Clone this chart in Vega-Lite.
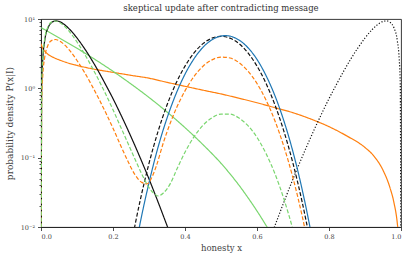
{
  "$schema": "https://vega.github.io/schema/vega-lite/v6.json",
  "width": 360,
  "height": 208,
  "autosize": {"type": "none"},
  "padding": {"left": 41, "top": 19, "right": 14, "bottom": 33},
  "background": "white",
  "config": {
    "view": {"stroke": "#222222", "strokeWidth": 0.9},
    "axis": {
      "domainColor": "#222222", "domainWidth": 0.9, "tickColor": "#222222", "tickWidth": 0.8,
      "labelFont": "DejaVu Serif", "labelFontSize": 6.5, "labelColor": "#444444",
      "titleFont": "DejaVu Serif", "titleFontSize": 8.5, "titleFontWeight": "normal", "titleColor": "#444444",
      "grid": false
    }
  },
  "title": {"text": "skeptical update after contradicting message", "font": "DejaVu Serif", "fontSize": 8.5, "fontWeight": "normal", "color": "#333333", "offset": 4, "anchor": "middle"},
  "data": {"values": [
    {"s":"a","x":0,"y":4.4},{"s":"a","x":0.005,"y":3.75},{"s":"a","x":0.01,"y":3.45},{"s":"a","x":0.02,"y":3.08},{"s":"a","x":0.035,"y":2.78},{"s":"a","x":0.05,"y":2.58},{"s":"a","x":0.075,"y":2.32},{"s":"a","x":0.1,"y":2.14},{"s":"a","x":0.15,"y":1.88},{"s":"a","x":0.2,"y":1.7},{"s":"a","x":0.25,"y":1.54},{"s":"a","x":0.3,"y":1.4},{"s":"a","x":0.35,"y":1.22},{"s":"a","x":0.4,"y":1.07},{"s":"a","x":0.45,"y":0.94},{"s":"a","x":0.5,"y":0.83},{"s":"a","x":0.55,"y":0.72},{"s":"a","x":0.6,"y":0.62},{"s":"a","x":0.65,"y":0.525},{"s":"a","x":0.7,"y":0.445},{"s":"a","x":0.75,"y":0.36},{"s":"a","x":0.8,"y":0.28},{"s":"a","x":0.85,"y":0.205},{"s":"a","x":0.9,"y":0.14},{"s":"a","x":0.925,"y":0.105},{"s":"a","x":0.95,"y":0.066},{"s":"a","x":0.97,"y":0.036},{"s":"a","x":0.98,"y":0.023},{"s":"a","x":0.99,"y":0.011},{"s":"a","x":0.995,"y":0.0055},{"s":"a","x":1,"y":0.0001},
    {"s":"b","x":0,"y":7.5},{"s":"b","x":0.05,"y":5.37},{"s":"b","x":0.1,"y":3.78},{"s":"b","x":0.15,"y":2.61},{"s":"b","x":0.2,"y":1.76},{"s":"b","x":0.25,"y":1.156},{"s":"b","x":0.3,"y":0.739},{"s":"b","x":0.35,"y":0.456},{"s":"b","x":0.4,"y":0.271},{"s":"b","x":0.45,"y":0.154},{"s":"b","x":0.5,"y":0.083},{"s":"b","x":0.55,"y":0.04},{"s":"b","x":0.6,"y":0.017},{"s":"b","x":0.65,"y":0.0065},{"s":"b","x":0.7,"y":0.0025},
    {"s":"c","x":0,"y":0.0001},{"s":"c","x":0.002,"y":1.14},{"s":"c","x":0.005,"y":2.67},{"s":"c","x":0.01,"y":4.76},{"s":"c","x":0.02,"y":7.54},{"s":"c","x":0.03,"y":8.93},{"s":"c","x":0.04,"y":9.38},{"s":"c","x":0.05,"y":9.22},{"s":"c","x":0.06,"y":8.68},{"s":"c","x":0.08,"y":7.05},{"s":"c","x":0.1,"y":5.32},{"s":"c","x":0.12,"y":3.81},{"s":"c","x":0.14,"y":2.62},{"s":"c","x":0.16,"y":1.74},{"s":"c","x":0.18,"y":1.12},{"s":"c","x":0.2,"y":0.71},{"s":"c","x":0.22,"y":0.435},{"s":"c","x":0.24,"y":0.261},{"s":"c","x":0.26,"y":0.153},{"s":"c","x":0.28,"y":0.0878},{"s":"c","x":0.3,"y":0.0493},{"s":"c","x":0.32,"y":0.0269},{"s":"c","x":0.34,"y":0.0144},{"s":"c","x":0.36,"y":0.0076},{"s":"c","x":0.38,"y":0.0038},
    {"s":"d","x":0.225,"y":0.0009},{"s":"d","x":0.25,"y":0.0053},{"s":"d","x":0.275,"y":0.0235},{"s":"d","x":0.3,"y":0.0826},{"s":"d","x":0.325,"y":0.238},{"s":"d","x":0.35,"y":0.574},{"s":"d","x":0.375,"y":1.18},{"s":"d","x":0.4,"y":2.09},{"s":"d","x":0.425,"y":3.24},{"s":"d","x":0.45,"y":4.41},{"s":"d","x":0.475,"y":5.29},{"s":"d","x":0.5,"y":5.62},{"s":"d","x":0.525,"y":5.29},{"s":"d","x":0.55,"y":4.41},{"s":"d","x":0.575,"y":3.24},{"s":"d","x":0.6,"y":2.09},{"s":"d","x":0.625,"y":1.18},{"s":"d","x":0.65,"y":0.574},{"s":"d","x":0.675,"y":0.238},{"s":"d","x":0.7,"y":0.0826},{"s":"d","x":0.725,"y":0.0235},{"s":"d","x":0.75,"y":0.0053},{"s":"d","x":0.775,"y":0.0009},
    {"s":"e","x":0.62,"y":0.0038},{"s":"e","x":0.64,"y":0.0076},{"s":"e","x":0.66,"y":0.0144},{"s":"e","x":0.68,"y":0.0269},{"s":"e","x":0.7,"y":0.0493},{"s":"e","x":0.72,"y":0.0878},{"s":"e","x":0.74,"y":0.153},{"s":"e","x":0.76,"y":0.261},{"s":"e","x":0.78,"y":0.435},{"s":"e","x":0.8,"y":0.71},{"s":"e","x":0.82,"y":1.12},{"s":"e","x":0.84,"y":1.74},{"s":"e","x":0.86,"y":2.62},{"s":"e","x":0.88,"y":3.81},{"s":"e","x":0.9,"y":5.32},{"s":"e","x":0.92,"y":7.05},{"s":"e","x":0.94,"y":8.68},{"s":"e","x":0.95,"y":9.22},{"s":"e","x":0.96,"y":9.38},{"s":"e","x":0.97,"y":8.93},{"s":"e","x":0.98,"y":7.54},{"s":"e","x":0.99,"y":4.76},{"s":"e","x":0.995,"y":2.67},{"s":"e","x":0.998,"y":1.14},{"s":"e","x":1,"y":0.0001},
    {"s":"f","x":0.25,"y":0.0022},{"s":"f","x":0.275,"y":0.0111},{"s":"f","x":0.3,"y":0.0434},{"s":"f","x":0.325,"y":0.1406},{"s":"f","x":0.35,"y":0.371},{"s":"f","x":0.375,"y":0.83},{"s":"f","x":0.4,"y":1.6},{"s":"f","x":0.425,"y":2.67},{"s":"f","x":0.45,"y":3.91},{"s":"f","x":0.475,"y":5.01},{"s":"f","x":0.5,"y":5.68},{"s":"f","x":0.5125,"y":5.75},{"s":"f","x":0.525,"y":5.66},{"s":"f","x":0.55,"y":4.97},{"s":"f","x":0.575,"y":3.85},{"s":"f","x":0.6,"y":2.61},{"s":"f","x":0.625,"y":1.53},{"s":"f","x":0.65,"y":0.778},{"s":"f","x":0.675,"y":0.335},{"s":"f","x":0.7,"y":0.121},{"s":"f","x":0.725,"y":0.0355},{"s":"f","x":0.75,"y":0.0083},{"s":"f","x":0.775,"y":0.0015},
    {"s":"g","x":0,"y":0.0001},{"s":"g","x":0.002,"y":0.67},{"s":"g","x":0.005,"y":1.55},{"s":"g","x":0.01,"y":2.73},{"s":"g","x":0.02,"y":4.24},{"s":"g","x":0.03,"y":4.92},{"s":"g","x":0.04,"y":5.06},{"s":"g","x":0.05,"y":4.87},{"s":"g","x":0.06,"y":4.49},{"s":"g","x":0.08,"y":3.5},{"s":"g","x":0.1,"y":2.52},{"s":"g","x":0.12,"y":1.73},{"s":"g","x":0.14,"y":1.13},{"s":"g","x":0.16,"y":0.718},{"s":"g","x":0.18,"y":0.443},{"s":"g","x":0.2,"y":0.266},{"s":"g","x":0.22,"y":0.155},{"s":"g","x":0.24,"y":0.092},{"s":"g","x":0.26,"y":0.058},{"s":"g","x":0.28,"y":0.044},{"s":"g","x":0.295,"y":0.042},{"s":"g","x":0.31,"y":0.055},{"s":"g","x":0.32,"y":0.075},{"s":"g","x":0.34,"y":0.165},{"s":"g","x":0.36,"y":0.325},{"s":"g","x":0.375,"y":0.5025},{"s":"g","x":0.4,"y":0.92},{"s":"g","x":0.425,"y":1.48},{"s":"g","x":0.45,"y":2.08},{"s":"g","x":0.475,"y":2.575},{"s":"g","x":0.5,"y":2.825},{"s":"g","x":0.525,"y":2.74},{"s":"g","x":0.55,"y":2.345},{"s":"g","x":0.575,"y":1.77},{"s":"g","x":0.6,"y":1.175},{"s":"g","x":0.625,"y":0.678},{"s":"g","x":0.65,"y":0.338},{"s":"g","x":0.675,"y":0.143},{"s":"g","x":0.7,"y":0.0509},{"s":"g","x":0.725,"y":0.01475},{"s":"g","x":0.75,"y":0.0034},{"s":"g","x":0.775,"y":0.0006},
    {"s":"h","x":0,"y":0.0001},{"s":"h","x":0.002,"y":1.235},{"s":"h","x":0.005,"y":2.87},{"s":"h","x":0.01,"y":5.05},{"s":"h","x":0.02,"y":7.83},{"s":"h","x":0.03,"y":9.1},{"s":"h","x":0.04,"y":9.36},{"s":"h","x":0.05,"y":9.01},{"s":"h","x":0.06,"y":8.3},{"s":"h","x":0.08,"y":6.47},{"s":"h","x":0.1,"y":4.66},{"s":"h","x":0.12,"y":3.19},{"s":"h","x":0.14,"y":2.09},{"s":"h","x":0.16,"y":1.328},{"s":"h","x":0.18,"y":0.819},{"s":"h","x":0.2,"y":0.491},{"s":"h","x":0.22,"y":0.287},{"s":"h","x":0.24,"y":0.168},{"s":"h","x":0.26,"y":0.098},{"s":"h","x":0.28,"y":0.058},{"s":"h","x":0.3,"y":0.037},{"s":"h","x":0.315,"y":0.03},{"s":"h","x":0.325,"y":0.028},{"s":"h","x":0.34,"y":0.031},{"s":"h","x":0.36,"y":0.043},{"s":"h","x":0.375,"y":0.064},{"s":"h","x":0.4,"y":0.12},{"s":"h","x":0.425,"y":0.2},{"s":"h","x":0.45,"y":0.293},{"s":"h","x":0.475,"y":0.376},{"s":"h","x":0.5,"y":0.426},{"s":"h","x":0.525,"y":0.4245},{"s":"h","x":0.55,"y":0.373},{"s":"h","x":0.575,"y":0.289},{"s":"h","x":0.6,"y":0.196},{"s":"h","x":0.625,"y":0.115},{"s":"h","x":0.65,"y":0.0584},{"s":"h","x":0.675,"y":0.0251},{"s":"h","x":0.7,"y":0.0091},{"s":"h","x":0.725,"y":0.0027},{"s":"h","x":0.75,"y":0.0006}
  ]},
  "mark": {"type": "line", "clip": true, "interpolate": "monotone", "strokeWidth": 1.2},
  "encoding": {
    "x": {"field": "x", "type": "quantitative",
      "scale": {"domain": [0, 1], "nice": false, "zero": false},
      "axis": {"values": [0, 0.2, 0.4, 0.6, 0.8, 1], "format": ".1f", "title": "honesty x", "tickSize": 3.5, "labelPadding": 3, "titlePadding": 3}},
    "y": {"field": "y", "type": "quantitative",
      "scale": {"type": "log", "domain": [0.01, 10], "nice": false},
      "axis": {
        "values": [0.01,0.02,0.03,0.04,0.05,0.06,0.07,0.08,0.09,0.1,0.2,0.3,0.4,0.5,0.6,0.7,0.8,0.9,1,2,3,4,5,6,7,8,9,10],
        "labelExpr": "datum.value == 10 ? '10¹' : datum.value == 1 ? '10⁰' : datum.value == 0.1 ? '10⁻¹' : datum.value == 0.01 ? '10⁻²' : ''",
        "tickSize": {"condition": {"test": "datum.value == 10 || datum.value == 1 || datum.value == 0.1 || datum.value == 0.01", "value": 3.5}, "value": 2},
        "labelPadding": 3, "title": "probability density P(x|I)", "titleFontSize": 9, "titlePadding": 6}},
    "color": {"field": "s", "type": "nominal", "legend": null,
      "scale": {"domain": ["a","b","c","d","e","f","g","h"], "range": ["#ff7f0e","#7ad66f","#111111","#111111","#111111","#1f77b4","#ff7f0e","#7ad66f"]}},
    "strokeDash": {"field": "s", "type": "nominal", "legend": null,
      "scale": {"domain": ["a","b","c","d","e","f","g","h"], "range": [[1,0],[1,0],[1,0],[4,2],[1.2,1.8],[1,0],[4,2],[4,2]]}}
  }
}
